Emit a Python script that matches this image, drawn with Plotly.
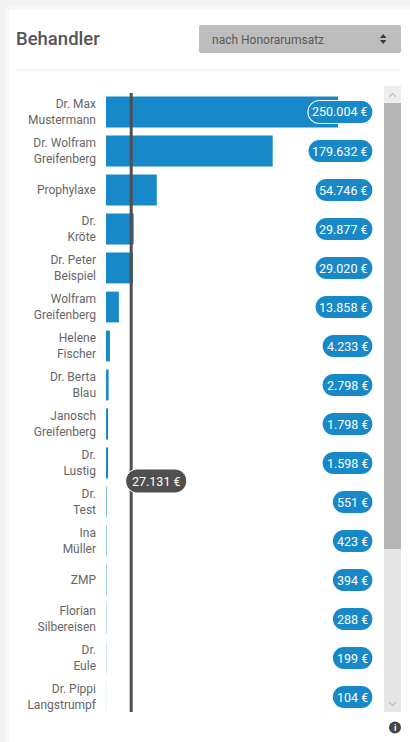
import plotly.graph_objects as go

names = ["Dr. Max<br>Mustermann", "Dr. Wolfram<br>Greifenberg", "Prophylaxe", "Dr.<br>Kröte",
         "Dr. Peter<br>Beispiel", "Wolfram<br>Greifenberg", "Helene<br>Fischer", "Dr. Berta<br>Blau",
         "Janosch<br>Greifenberg", "Dr.<br>Lustig", "Dr.<br>Test", "Ina<br>Müller", "ZMP",
         "Florian<br>Silbereisen", "Dr.<br>Eule", "Dr. Pippi<br>Langstrumpf"]
values = [250004, 179632, 54746, 29877, 29020, 13858, 4233, 2798, 1798, 1598, 551, 423, 394, 288, 199, 104]
mean_value = 27131
title_text = "Behandler"
select_text = "nach Honorarumsatz"

W, H = 410, 742
BLUE = "#1789c9"
DARK = "#4f4f4f"
px = lambda x: x / W
py = lambda y: 1 - y / H


def euro(v):
    return f"{v:,}".replace(",", ".") + " €"


def text_width(s, size=12.5):
    em = sum({".": .26, " ": .25}.get(c, .562) for c in s)
    return em * size


def pill_path(x0, x1, h):
    r = h / 2
    k = r * 0.5523
    return (f"M{x0 + r},{-r} L{x1 - r},{-r} "
            f"C{x1 - r + k},{-r} {x1},{-k} {x1},0 C{x1},{k} {x1 - r + k},{r} {x1 - r},{r} "
            f"L{x0 + r},{r} "
            f"C{x0 + r - k},{r} {x0},{k} {x0},0 C{x0},{-k} {x0 + r - k},{-r} {x0 + r},{-r} Z")


def rect(x0, y0, x1, y1, color):
    return dict(type="rect", xref="paper", yref="paper", x0=px(x0), x1=px(x1), y0=py(y0), y1=py(y1),
                fillcolor=color, line_width=0, layer="below")


def poly(points, fill=None, line=None, width=1.2):
    d = "M" + " L".join(f"{px(x)},{py(y)}" for x, y in points) + (" Z" if fill else "")
    return dict(type="path", xref="paper", yref="paper", path=d, fillcolor=fill or "rgba(0,0,0,0)",
                line=dict(color=line or "rgba(0,0,0,0)", width=width if line else 0))


fig = go.Figure(go.Bar(
    x=values, y=names, orientation="h", width=0.79,
    marker=dict(color=BLUE, line_width=0, opacity=[min(1, v / 1000) for v in values]), hoverinfo="skip",
))

shapes = [
    rect(0, 0, 410, 6, "#f1f1f1"), rect(0, 6, 410, 10, "#f7f7f7"),
    rect(0, 0, 6, 742, "#f1f1f1"), rect(6, 6, 9, 742, "#f7f7f7"),
    rect(16, 69.5, 401, 70.5, "#eeeeee"),
    dict(type="path", xref="paper", yref="paper", layer="below", fillcolor="#bdbdbd", line_width=0,
         path=(f"M{px(201)},{py(25)} L{px(399)},{py(25)} Q{px(401)},{py(25)} {px(401)},{py(27)} "
               f"L{px(401)},{py(51)} Q{px(401)},{py(53)} {px(399)},{py(53)} L{px(201)},{py(53)} "
               f"Q{px(199)},{py(53)} {px(199)},{py(51)} L{px(199)},{py(27)} Q{px(199)},{py(25)} {px(201)},{py(25)} Z")),
    poly([(380, 38), (386.5, 38), (383.2, 34)], fill="#3c3c3c"),
    poly([(380, 40), (386.5, 40), (383.2, 44)], fill="#3c3c3c"),
    rect(384, 86, 401, 712, "#e6e6e6"),
    rect(384, 86, 401, 103, "#eeeeee"),
    rect(384, 103, 401, 549, "#b6b6b6"),
    poly([(389, 97), (392.5, 93.5), (396, 97)], line="#bdbdbd"),
    poly([(389, 702), (392.5, 705.5), (396, 702)], line="#bdbdbd"),
    dict(type="line", xref="x", yref="paper", x0=mean_value, x1=mean_value, y0=py(93), y1=py(712),
         line=dict(color=DARK, width=3)),
    dict(type="circle", xref="paper", yref="paper", x0=px(389), x1=px(401), y0=py(721.5), y1=py(733.5),
         fillcolor="#444444", line_width=0),
]

annotations = [
    dict(text=title_text, xref="paper", yref="paper", x=px(14), y=py(39),
         xanchor="left", yanchor="middle", showarrow=False,
         font=dict(family="Roboto", size=18.5, color="#555555", weight=500)),
    dict(text=select_text, xref="paper", yref="paper", x=px(210), y=py(39.5), xanchor="left", yanchor="middle",
         showarrow=False, font=dict(family="Roboto", size=12, color="#5a5a5a")),
    dict(text="<b>i</b>", xref="paper", yref="paper", x=px(395), y=py(727.5), xanchor="center", yanchor="middle",
         showarrow=False, font=dict(family="Roboto", size=9, color="#ffffff")),
]

RIGHT = 373
for name, v in zip(names, values):
    label = euro(v)
    w = text_width(label) + 9.5
    shapes.append(dict(type="path", xref="paper", yref="y", xsizemode="pixel", ysizemode="pixel",
                       xanchor=px(RIGHT), yanchor=name, path=pill_path(-w, 0, 23),
                       fillcolor=BLUE, line=dict(color="#ffffff", width=1.2)))
    annotations.append(dict(text=label, xref="paper", yref="y", x=px(RIGHT - w / 2), y=name,
                            xanchor="center", yanchor="middle", showarrow=False,
                            font=dict(family="Roboto", size=12.5, color="#ffffff")))

mean_label = euro(mean_value)
shapes.append(dict(type="path", xref="x", yref="paper", xsizemode="pixel", ysizemode="pixel",
                   xanchor=mean_value, yanchor=py(481), path=pill_path(-5.5, 55.5, 24),
                   fillcolor=DARK, line=dict(color="#ffffff", width=1)))
annotations.append(dict(text=mean_label, xref="x", yref="paper", x=mean_value, y=py(481), xshift=25,
                        xanchor="center", yanchor="middle", showarrow=False,
                        font=dict(family="Roboto", size=12.5, color="#ffffff")))

fig.update_layout(
    width=W, height=H, autosize=False, margin=dict(l=0, r=0, t=0, b=0),
    paper_bgcolor="#ffffff", plot_bgcolor="rgba(0,0,0,0)", showlegend=False,
    font=dict(family="Roboto", size=12, color="#666666"),
    xaxis=dict(domain=[px(106), px(338)], range=[0, 250004], visible=False, fixedrange=True),
    yaxis=dict(domain=[py(716.5), py(92.5)], autorange="reversed", categoryorder="array", categoryarray=names,
               showgrid=False, zeroline=False, showline=False, ticks="", ticklabelstandoff=9,
               tickfont=dict(family="Roboto", size=12, color="#666666"), fixedrange=True),
    shapes=shapes, annotations=annotations,
)

fig.write_html("out.html", config={"displayModeBar": False},
               post_script="document.body.style.margin='0';document.documentElement.style.overflow='hidden';")
